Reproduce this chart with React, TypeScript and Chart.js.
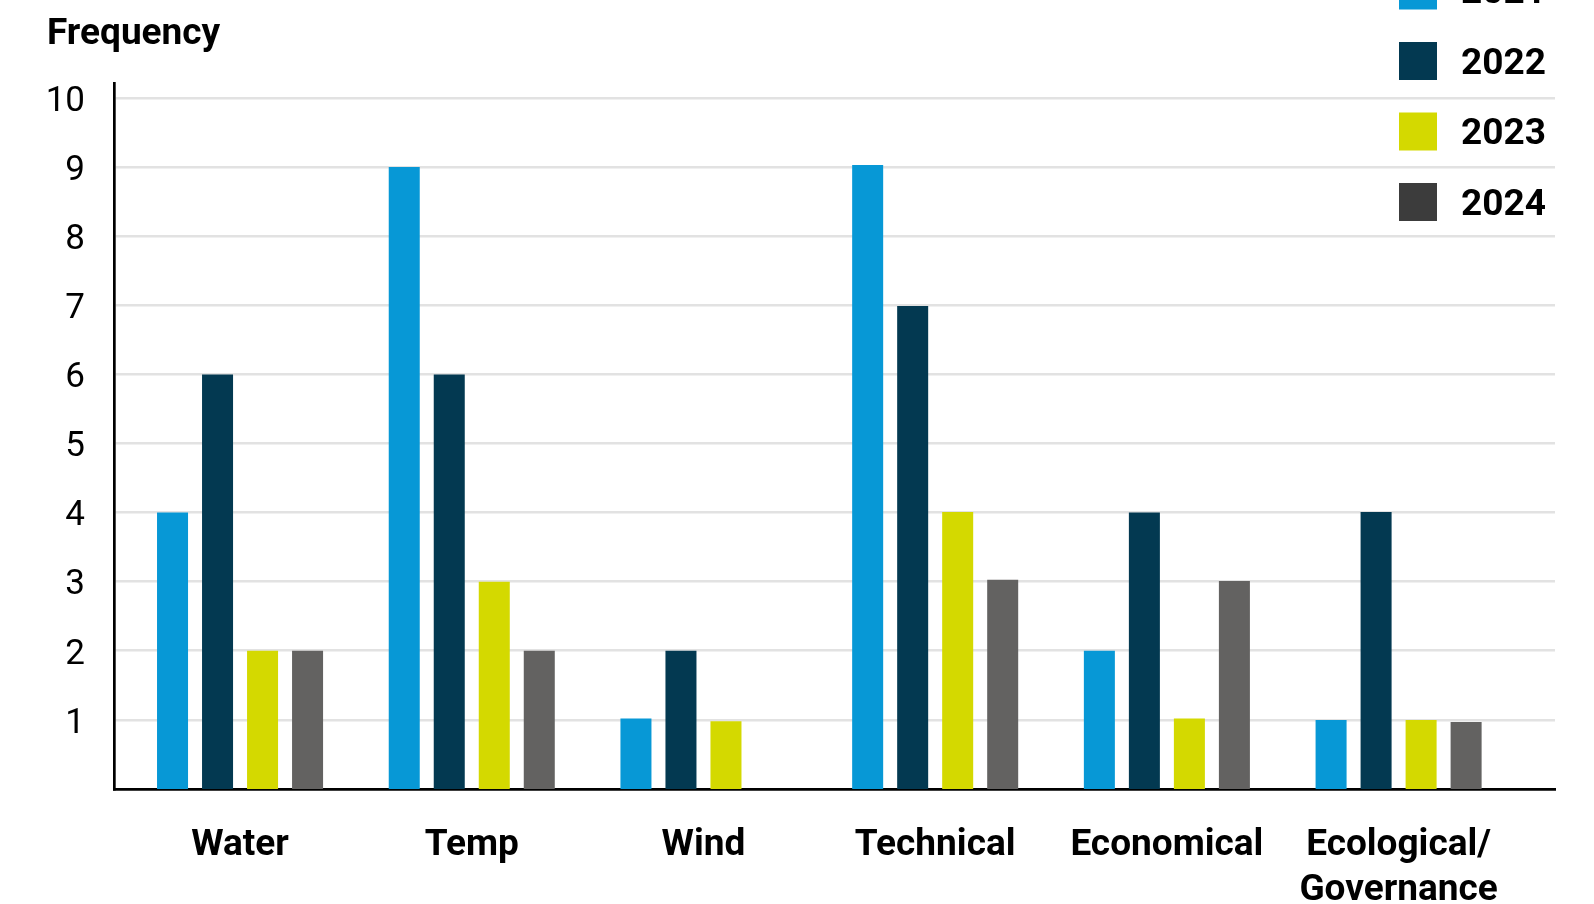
import React, { useEffect, useRef } from "react";
import { Chart, registerables } from "chart.js";

Chart.register(...registerables);

const categories: (string | string[])[] = [
  "Water",
  "Temp",
  "Wind",
  "Technical",
  "Economical",
  ["Ecological/", "Governance"],
];
const seriesLabels = ["2021", "2022", "2023", "2024"];
const values2021 = [4, 9, 1.02, 9.03, 2, 1];
const values2022 = [6, 6, 2, 6.99, 4, 4.01];
const values2023 = [2, 3, 0.98, 4.01, 1.02, 1];
const values2024 = [2, 2, 0, 3.03, 3.01, 0.97];
const barColors = ["#0798d6", "#033951", "#d4d900", "#636261"];
const legendColors = ["#0798d6", "#033951", "#d4d900", "#3c3c3c"];
const yTicks = [1, 2, 3, 4, 5, 6, 7, 8, 9, 10];
const yTitle = "Frequency";

const FONT = "Roboto, 'Liberation Sans', sans-serif";

const overlayPlugin = {
  id: "overlay",
  afterDraw(chart: any) {
    const ctx = chart.ctx;
    ctx.save();
    // axis title
    ctx.fillStyle = "#000";
    ctx.font = `bold 37px ${FONT}`;
    ctx.textAlign = "left";
    ctx.textBaseline = "alphabetic";
    ctx.fillText(yTitle, 47, 44);
    // legend
    ctx.font = `bold 37px ${FONT}`;
    ctx.textBaseline = "middle";
    chart.data.datasets.forEach((ds: any, i: number) => {
      const top = -28.5 + i * 70.5;
      ctx.fillStyle = legendColors[i];
      ctx.fillRect(1399, top, 38, 38);
      ctx.fillStyle = "#000";
      ctx.fillText(ds.label, 1461, top + 22.5);
    });
    ctx.restore();
  },
};

export default function App() {
  const ref = useRef<HTMLCanvasElement | null>(null);
  useEffect(() => {
    if (!ref.current) return;
    const series = [values2021, values2022, values2023, values2024];
    const chart = new Chart(ref.current, {
      type: "bar",
      data: {
        datasets: series.map((vals, si) => ({
          label: seriesLabels[si],
          data: vals.map((v, i) => ({ x: i, y: v })),
          backgroundColor: barColors[si],
          borderWidth: 0,
          barPercentage: 0.689,
          categoryPercentage: 0.777,
        })),
      },
      options: {
        animation: false,
        responsive: true,
        maintainAspectRatio: false,
        layout: { padding: { left: 0, top: 83, right: 39, bottom: 0 } },
        plugins: {
          legend: { display: false },
          tooltip: { enabled: false },
          title: { display: false },
        },
        scales: {
          x: {
            type: "linear",
            offset: false,
            min: -0.544,
            max: 5.675,
            afterBuildTicks(scale: any) {
              scale.ticks = categories.map((_, i) => ({ value: i }));
            },
            afterFit(scale: any) {
              scale.height = 115;
            },
            grid: { display: false, drawTicks: false, offset: false },
            border: { display: true, color: "#000", width: 2.7 },
            ticks: {
              autoSkip: false,
              maxRotation: 0,
              padding: 34,
              color: "#000",
              font: { family: FONT, size: 37, weight: "bold", lineHeight: 1.22 },
              callback: (v: any) => categories[Math.round(Number(v))] as any,
            },
          },
          y: {
            type: "linear",
            min: 0,
            max: 10.217,
            afterBuildTicks(scale: any) {
              scale.ticks = yTicks.map((v) => ({ value: v }));
            },
            afterFit(scale: any) {
              scale.width = 114;
            },
            grid: { color: "#e2e2e2", lineWidth: 2.6, drawTicks: false },
            border: { display: true, color: "#000", width: 2.7 },
            ticks: {
              padding: 29,
              labelOffset: 4,
              color: "#000",
              font: { family: FONT, size: 35, weight: "normal" },
            },
          },
        },
      },
      plugins: [overlayPlugin],
    } as any);
    return () => chart.destroy();
  }, []);
  return (
    <div style={{ position: "fixed", left: 0, top: 0, width: 1594, height: 904, background: "#fff" }}>
      <canvas ref={ref} />
    </div>
  );
}
